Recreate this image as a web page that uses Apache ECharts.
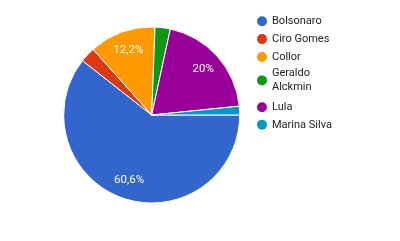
<!DOCTYPE html>
<html>
<head>
<meta charset="utf-8">
<script src="https://cdn.jsdelivr.net/npm/echarts@6/dist/echarts.min.js"></script>
<style>html,body{margin:0;padding:0;background:#fff;}#c{width:400px;height:241px;}</style>
</head>
<body>
<div id="c"></div>
<script>
var categories = ['Bolsonaro', 'Ciro Gomes', 'Collor', 'Geraldo Alckmin', 'Lula', 'Marina Silva'];
var values = [60.6, 2.8, 12.2, 2.8, 20, 1.6];
var colors = ['#3366cc', '#dc3912', '#ff9900', '#109618', '#990099', '#0099c6'];

var data = categories.map(function (n, i) { return { name: n, value: values[i] }; });
var chart = echarts.init(document.getElementById('c'), null, { renderer: 'canvas' });
var legendText = { fontFamily: 'Roboto', fontSize: 11, color: '#222222', lineHeight: 14 };
chart.setOption({
  animation: false,
  color: colors,
  legend: [{
    orient: 'vertical', left: 257, top: 14.2, padding: 0, itemGap: 3.9,
    itemWidth: 10, itemHeight: 10, icon: 'circle',
    itemStyle: { borderWidth: 0 },
    textStyle: legendText,
    formatter: function (n) { return n === 'Geraldo Alckmin' ? 'Geraldo\nAlckmin' : n; },
    data: [
      { name: categories[0] }, { name: categories[1] }, { name: categories[2] },
      { name: categories[3], textStyle: { padding: [0, 0, -14, 0] } }
    ]
  }, {
    orient: 'vertical', left: 257, top: 100.2, padding: 0, itemGap: 3.6,
    itemWidth: 10, itemHeight: 10, icon: 'circle',
    itemStyle: { borderWidth: 0 },
    textStyle: legendText,
    data: [categories[4], categories[5]]
  }],
  series: [{
    type: 'pie',
    center: [151.7, 115],
    radius: [0, 88],
    startAngle: 0,
    clockwise: true,
    avoidLabelOverlap: false,
    label: { show: false },
    labelLine: { show: false },
    itemStyle: { borderColor: '#ffffff', borderWidth: 1 },
    emphasis: { disabled: true },
    data: data
  }, {
    type: 'pie',
    center: [151.7, 115],
    radius: [44, 88],
    startAngle: 0,
    clockwise: true,
    silent: true,
    legendHoverLink: false,
    avoidLabelOverlap: false,
    itemStyle: { color: 'rgba(0,0,0,0)', borderWidth: 0 },
    labelLine: { show: false },
    label: {
      show: true, position: 'inside', color: '#ffffff',
      fontFamily: 'Roboto', fontSize: 11.5,
      formatter: function (p) {
        if (p.value < 5) return '';
        return String(p.value).replace('.', ',') + '%';
      }
    },
    emphasis: { disabled: true },
    data: categories.map(function (n, i) { return { name: n + ' ', value: values[i] }; })
  }]
});
</script>
</body>
</html>
